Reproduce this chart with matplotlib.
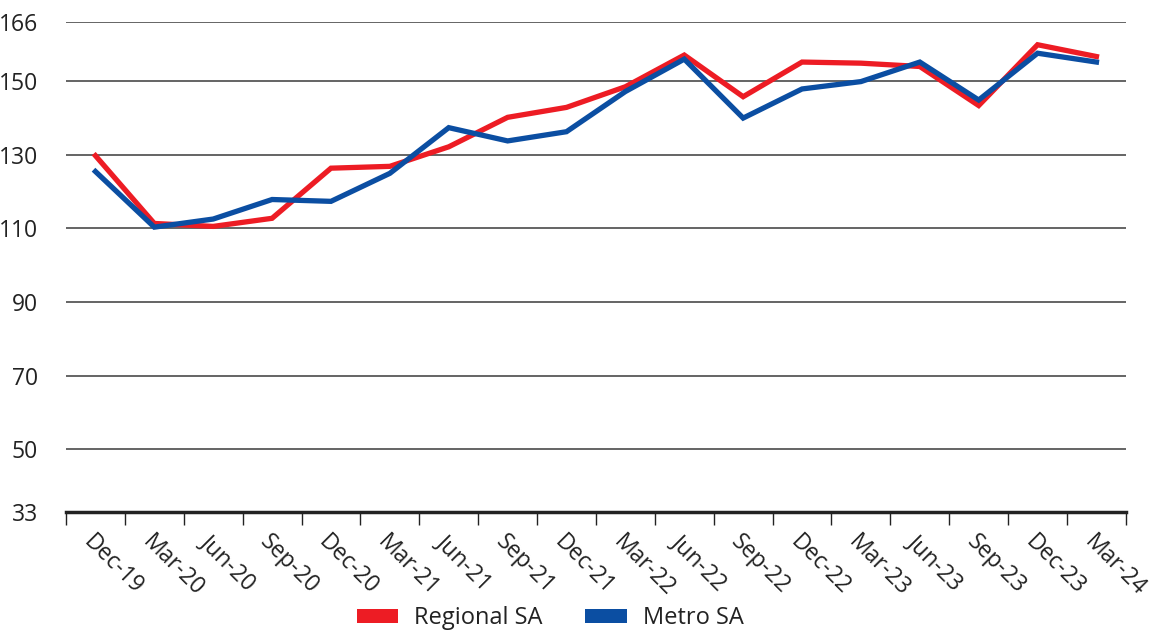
import matplotlib
matplotlib.use("Agg")
import matplotlib.pyplot as plt
from matplotlib.patches import Patch

categories = ["Dec-19", "Mar-20", "Jun-20", "Sep-20", "Dec-20", "Mar-21", "Jun-21", "Sep-21",
              "Dec-21", "Mar-22", "Jun-22", "Sep-22", "Dec-22", "Mar-23", "Jun-23", "Sep-23",
              "Dec-23", "Mar-24"]
regional = [129.7, 111.3, 110.5, 112.7, 126.3, 126.8, 132.1, 140.1, 142.8, 148.4, 157.0, 145.7,
            155.1, 154.8, 153.9, 143.3, 159.8, 156.6]
metro = [125.4, 110.3, 112.5, 117.8, 117.3, 124.9, 137.3, 133.7, 136.2, 147.1, 155.9, 139.9,
         147.8, 149.8, 155.1, 144.8, 157.5, 155.1]
yticks = [33, 50, 70, 90, 110, 130, 150, 166]

plt.rcParams['font.family'] = ['Open Sans', 'DejaVu Sans']
fig = plt.figure(figsize=(11.66, 6.44), dpi=100)
ax = fig.add_axes([0.0566, 0.205, 0.909, 0.761])

x = list(range(len(categories)))
red = "#ED1C24"
blue = "#0B4EA2"
ax.plot(x, regional, color=red, lw=3.8, solid_joinstyle='miter', zorder=3)
ax.plot(x, metro, color=blue, lw=3.8, solid_joinstyle='miter', zorder=4)

ax.set_xlim(-0.5, len(categories) - 0.5)
ax.set_ylim(33, 166)
ax.set_yticks(yticks)
ax.set_yticklabels([str(v) for v in yticks], fontsize=16.5, color="#222222")
ax.tick_params(axis='y', length=0, pad=20)
for v in yticks[1:]:
    ax.axhline(v, color="#3a3a3a", lw=1.1, zorder=1)

ax.set_xticks([i - 0.5 for i in range(len(categories) + 1)])
ax.set_xticklabels([])
ax.tick_params(axis='x', which='major', length=9, width=1.0, color="#222222", direction='out')
ax.set_xticks(x, minor=True)
ax.set_xticklabels(categories, minor=True, rotation=-45, ha='left', va='top',
                   rotation_mode='anchor', fontsize=16.5, color="#222222")
ax.tick_params(axis='x', which='minor', length=0, pad=13)

for s in ['top', 'right', 'left']:
    ax.spines[s].set_visible(False)
ax.spines['bottom'].set_linewidth(2.5)
ax.spines['bottom'].set_color("#222222")

handles = [Patch(facecolor=red, label="Regional SA"), Patch(facecolor=blue, label="Metro SA")]
fig.legend(handles=handles, loc='lower center', bbox_to_anchor=(0.472, -0.012), ncol=2,
           frameon=False, fontsize=17, handlelength=1.75, handleheight=0.55,
           handletextpad=0.7, columnspacing=1.8, labelcolor="#222222")

fig.savefig("out.png", dpi=100)
